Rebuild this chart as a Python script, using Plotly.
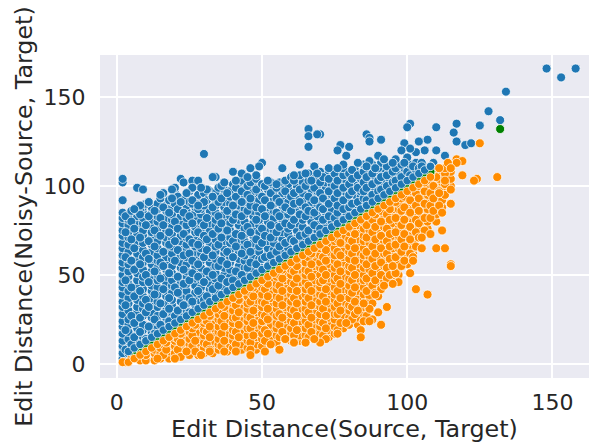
import plotly.graph_objects as go

x_ticks = [0, 50, 100, 150]
y_ticks = [0, 50, 100, 150]
x_title = "\u00a0\u00a0\u00a0Edit Distance(Source, Target)"
y_title = "Edit Distance(Noisy-Source, Target)"

blue_cols = {
2: [3,6,10,13,17,21,24,28,32,35,39,43,46,50,54,57,61,65,68,72,75,79,82,85,92,102,104],
4: [6,9,14,18,22,25,30,34,37,41,45,49,52,56,59,63,67,71,74,78,81,84],
7: [9,13,16,20,24,29,32,36,40,44,47,51,55,58,62,66,69,73,77,80,83,86,99],
9: [11,15,19,22,27,31,34,38,42,46,49,53,57,60,64,68,72,75,79,82,85,88,98],
12: [14,18,21,26,29,33,37,41,44,48,52,56,59,63,67,71,74,78,81,85,88],
14: [16,20,24,27,32,35,39,43,47,50,54,58,61,65,69,73,76,80,83,87,90],
17: [19,23,26,30,34,38,41,45,49,53,56,60,64,68,71,75,79,82,86,89],
19: [21,25,29,33,36,40,44,47,51,55,59,62,66,70,73,77,81,84,88,91],
22: [24,28,31,35,39,43,46,50,54,57,61,65,69,72,76,80,83,87,91],
24: [26,30,34,38,41,45,49,52,56,60,64,67,71,75,78,82,86,89,93],
27: [29,33,37,40,44,48,52,55,59,63,66,70,74,77,81,85,88,92],
29: [31,35,39,43,47,50,54,58,62,65,69,73,76,80,84,87,91,94],
32: [34,38,42,45,49,53,57,60,64,68,71,75,79,83,86,90,93,97],
34: [36,40,44,48,51,55,59,63,66,70,74,78,81,85,89,92,96],
37: [39,43,47,50,54,58,62,65,69,73,76,80,84,88,91,95,98],
39: [41,45,49,53,57,60,64,68,71,75,79,83,86,90,94,97],
42: [44,48,52,55,59,63,66,70,74,78,81,85,89,92,96,99],
44: [46,50,54,58,61,65,69,73,76,80,84,87,91,94,98],
47: [49,53,57,60,64,68,72,75,79,83,86,90,94,97,101],
49: [51,55,59,63,66,70,74,78,81,85,89,92,96,99],
52: [54,58,62,65,69,73,76,80,84,88,91,95,98],
54: [56,60,64,68,71,75,79,82,86,90,93,97,100],
57: [59,63,67,70,74,78,81,85,89,93,96,99],
59: [61,65,69,73,76,80,84,87,91,95,98,101],
62: [64,68,71,75,79,83,86,90,94,97,100,104],
64: [66,70,74,77,81,85,89,92,96,99,102],
67: [69,73,76,80,84,88,91,95,98,101,105],
69: [71,75,79,83,86,90,94,97,100,103],
72: [74,78,81,85,89,92,96,99,102,106],
74: [76,80,84,87,91,95,98,101,105],
77: [79,83,86,90,94,97,100,104,108],
79: [81,85,89,92,96,99,103,106],
82: [84,88,91,95,98,102,105,109],
84: [86,90,94,97,100,104,107],
87: [89,93,96,100,103,106,110],
89: [91,95,98,102,105,108],
92: [94,97,101,104,107,110],
94: [96,100,103,106,109],
97: [99,102,105,108,111],
99: [101,104,107,110],
102: [104,107,110],
104: [106,109],
107: [109],
}
blue_fill = {
3: [8,19,33,47,60,74,83],
5: [11,27,43,58,70,80,86],
6: [15,23,38,53,65,76],
8: [18,26,41,56,71,87,84],
10: [14,29,36,50,62,78,90],
11: [21,32,46,59,69,83,91],
13: [17,25,39,52,66,75,86],
15: [22,34,48,57,72,82,93],
16: [28,42,55,63,78,88],
18: [24,31,37,51,67,74,85,92],
20: [27,43,58,69,80,90,96],
21: [30,40,49,64,76,87,94],
23: [33,45,53,61,73,85,92],
25: [29,37,47,62,70,83,91,97],
26: [35,51,58,68,79,90,99],
28: [41,49,56,67,74,87,95],
30: [36,46,60,72,78,89,96],
31: [38,52,64,70,82,92,98],
33: [42,50,61,73,88,94],
35: [44,55,67,76,83,91,99],
36: [48,58,71,79,93,100],
38: [46,56,63,75,86,96],
40: [47,60,69,81,89,101],
41: [52,66,73,84,94,99],
43: [50,62,72,83,91,97,103],
45: [54,67,77,86,95,100],
46: [57,63,74,89,93,102],
48: [56,70,81,88,98,104],
50: [59,68,76,87,94,101],
51: [60,72,83,92,100],
53: [61,71,78,89,96,102],
55: [63,74,85,93,99],
56: [66,77,83,91,102],
58: [68,79,88,97,103],
60: [70,78,86,94,105],
61: [69,81,90,96,103],
63: [72,84,91,98,106],
65: [73,83,88,100],
66: [75,86,94,103,107],
68: [78,85,92,99,104],
70: [76,88,96,102,108],
71: [81,87,93,105],
73: [83,90,97,104],
75: [82,93,100,107],
76: [85,89,96,103],
78: [87,92,99,106,110],
80: [88,95,101,107],
81: [90,97,104,109],
83: [91,99,106],
85: [93,97,102,108,112],
86: [92,99,105,111],
88: [95,101,107,112],
90: [97,103,110],
91: [98,105,113],
93: [100,106,111],
95: [102,108],
96: [103,110,114],
98: [105,112],
100: [108],
101: [106,112],
103: [109,113],
105: [113],
}
blue_extra_x = [148,153,158,134,128,132,125,117,116,117,120,122,110,101,100,107,104,91,99,110,113,106,103,101,98,100,96,92,95,109,99,102,104,108,105,
                70,86,87,87,91,77,76,80,79,78,68,73,76,83,87,86,89,90,92,66,66,66,69,50,49,46,40,43,48,57,63,68,34,37,41,45,52,55,61,65,67,69,
                30,22,23,26,28,29,20,19,16,15,26,24,19,11,22,8,6,26,30,28,33,33]
blue_extra_y = [166,161,166,153,142,137,134,135,130,125,123,124,133,135,133,126,125,126,124,120,117,120,119,121,120,116,115,115,113,113,113,111,110,111,111,
                129,129,127,125,126,123,120,122,117,112,111,110,110,113,114,111,110,117,115,132,128,122,129,113,111,110,108,107,106,110,112,111,105,102,103,105,103,101,106,107,103,107,
                118,104,102,103,103,99,99,98,96,95,99,96,93,91,91,89,87,92,91,89,105,94]

orange_cols = {
3: [1],
5: [3],
8: [2,6],
10: [2,5,8],
13: [2,6,8,11],
15: [3,6,9,13],
18: [3,7,10,13,16],
20: [3,6,10,13,15,18],
23: [6,9,12,16,18,21],
25: [5,8,11,14,18,21,23],
28: [5,8,12,15,18,22,26],
30: [6,9,12,16,19,23,25,28],
33: [6,10,13,17,20,23,27,31],
35: [8,11,14,18,21,25,28,33],
38: [7,11,14,17,21,24,28,31,36],
40: [9,13,16,19,23,26,30,34,38],
43: [8,11,15,18,22,25,29,32,36,41],
45: [9,13,16,20,24,27,31,34,38,43],
48: [8,11,15,18,22,25,29,33,36,40,46],
50: [10,14,17,21,24,28,32,35,39,43,48],
53: [11,15,18,22,26,29,33,37,40,44,47,51],
55: [12,16,20,23,27,31,34,38,42,45,49,53],
58: [14,18,21,25,29,32,36,40,43,47,51,56],
60: [13,17,20,24,28,31,35,39,42,46,50,53,58],
63: [13,16,20,24,27,31,35,38,42,46,49,53,57,61],
65: [12,16,20,24,28,31,35,39,42,46,50,53,57,63],
68: [14,18,22,25,29,33,36,40,44,47,51,55,58,62,66],
70: [13,17,21,24,28,32,35,39,43,46,50,54,57,61,65,68],
73: [15,19,23,26,30,34,37,41,45,48,52,56,59,63,67,71],
75: [17,21,25,28,32,36,39,43,47,50,54,58,61,65,69,73],
78: [20,24,27,31,35,38,42,46,49,53,57,60,64,68,71,76],
80: [22,26,30,33,37,41,44,48,52,55,59,63,66,70,74,78],
83: [22,26,30,34,37,41,45,48,52,56,59,63,67,70,74,78,81],
85: [24,28,32,36,39,43,47,50,54,58,61,65,69,72,76,80,83],
87: [31,35,38,42,46,49,53,57,60,64,68,71,75,79,82,85],
90: [38,42,45,49,53,56,60,64,67,71,75,78,82,85,88],
92: [44,47,51,55,58,62,66,69,73,77,80,84,87,90],
95: [46,50,54,57,61,65,68,72,76,79,83,87,90,93],
97: [50,54,58,61,65,69,72,76,80,83,87,90,95],
100: [56,60,64,67,71,75,78,82,86,89,93,98],
102: [62,65,69,73,76,80,84,87,91,95,100],
105: [73,76,80,83,87,91,94,98,103],
107: [76,80,84,87,91,95,98,101,105],
110: [80,84,88,91,95,98,102,105,108],
112: [88,92,96,99,102,106,110],
115: [100,104,108,111],
}
orange_fill = {
16: [5,11],
17: [8,12],
21: [8,14],
22: [4,12,17],
26: [10,16,20],
27: [7,13,22],
31: [11,18,24],
32: [8,15,21,27],
36: [10,17,24,30],
37: [13,21,27,32],
41: [11,18,26,33,37],
42: [15,22,29,36],
46: [12,20,26,35,40],
47: [16,23,30,38,43],
51: [13,19,27,34,42,46],
52: [17,25,31,38,45],
56: [15,22,28,37,44,50],
57: [18,26,33,41,48,53],
61: [16,23,30,37,45,52,57],
62: [19,27,34,41,48,55],
66: [15,22,29,37,44,52,60],
67: [18,26,33,41,49,56,62],
71: [16,23,31,38,47,53,60,66],
72: [20,27,35,42,50,58,64],
76: [19,28,34,41,48,56,63,70],
77: [23,30,37,45,52,61,68],
81: [25,32,40,47,54,62,69,76],
82: [28,35,43,50,58,65,73],
86: [27,34,41,48,56,63,71,78],
88: [34,44,51,59,66,74,81],
89: [40,47,55,62,70,77,84],
91: [42,50,57,65,72,80,86],
93: [48,54,62,69,76,84,89],
94: [50,59,66,73,81,87],
96: [52,60,67,74,82,91],
98: [55,63,70,78,86,93],
99: [58,66,73,81,88,94],
101: [62,70,77,85,92,97],
103: [66,74,81,89,96,100],
104: [71,79,86,93,100],
106: [75,82,90,97,102],
108: [82,89,96,103],
109: [86,93,100,106],
111: [89,97,104,108],
113: [95,101,107,110],
}
orange_extra_x = [2,6,8,12,14,20,24,29,32,37,41,46,46,51,56,53,58,61,
                  115,112,112,108,105,110,113,105,115,115,102,102,101,103,107,93,90,91,85,88,87,84,84,76,79,72,70,68,65,61,58,56,97,95,92,89,87,85,83,96,95,
                  125,117,119,117,114,115,111,119,124,123,131,113,115,110,106,108,111]
orange_extra_y = [1,5,7,11,3,3,7,5,7,7,7,8,5,7,8,11,14,12,
                  90,85,75,73,71,65,65,65,56,55,60,58,51,42,39,32,29,22,24,25,24,19,15,17,23,14,12,14,12,12,14,8,46,45,44,39,31,34,30,51,55,
                  124,115,114,113,113,110,110,106,104,103,105,103,98,105,105,107,96]

green_x = [6,7,8,9,10,12,14,16,18,20,22,24,26,28,30,32,34,36,38,40,42,44,46,48,50,52,54,56,58,60,62,64,66,68,70,72,74,76,78,80,82,84,86,88,90,92,94,96,98,100,102,104,106,108,132]
green_y = [6,7,8,9,10,12,14,16,18,20,22,24,26,28,30,32,34,36,38,40,42,44,46,48,50,52,54,56,58,60,62,64,66,68,70,72,74,76,78,80,82,84,86,88,90,92,94,96,98,100,102,104,106,108,132]

edge_x = [4,6,8,10,12,14,16,18,20,22,24,26,28,30,32,34,36,38,40,42,44,46,48,50,52,54,56,58,60,62,64,66,68,70,72,74,76,78,80,82,84,86,88,90,92,94,96,98,100,102,104,106,108]
blue_edge_y = [7,9,11,13,15,17,19,21,23,25,27,29,31,33,35,37,39,41,43,45,47,49,51,53,55,57,59,61,63,65,67,69,71,73,75,77,79,81,83,85,87,89,91,93,95,97,99,101,103,105,107,109,111]
orange_edge_y = [1,3,5,7,9,11,13,15,17,19,21,23,25,27,29,31,33,35,37,39,41,43,45,47,49,51,53,55,57,59,61,63,65,67,69,71,73,75,77,79,81,83,85,87,89,91,93,95,97,99,101,103,105]

def flatten(cols, ex=(), ey=()):
    xs, ys = [], []
    for k, v in cols.items():
        xs += [k] * len(v)
        ys += v
    return xs + list(ex), ys + list(ey)

bx, by = flatten(blue_cols)
fx, fy = flatten(blue_fill, blue_extra_x, blue_extra_y)
blue_x, blue_y = bx + fx, by + fy
ox, oy = flatten(orange_cols)
gx, gy = flatten(orange_fill, orange_extra_x, orange_extra_y)
orange_x, orange_y = ox + gx, oy + gy

def trace(x, y, color, name, size=9):
    return go.Scatter(x=x, y=y, mode="markers", name=name,
                      marker=dict(size=size, color=color, line=dict(color="white", width=0.75)))

fig = go.Figure([
    trace(blue_x, blue_y, "#1f77b4", "above"),
    trace(orange_x, orange_y, "#ff8c00", "below"),
    trace(green_x, green_y, "#008000", "equal"),
    trace(edge_x, blue_edge_y, "#1f77b4", "above edge", 8.5),
    trace(edge_x, orange_edge_y, "#ff8c00", "below edge", 8.5),
])
axis = dict(showgrid=True, gridcolor="white", gridwidth=1.5, zeroline=False, showline=False,
            ticks="outside", tickcolor="rgba(0,0,0,0)", tickfont=dict(size=22, color="#262626"))
fig.update_layout(
    width=590, height=443, autosize=False, showlegend=False,
    margin=dict(l=100, r=1, t=55, b=65),
    paper_bgcolor="white", plot_bgcolor="#EAEAF2",
    font=dict(family="DejaVu Sans", color="#262626"),
    xaxis=dict(axis, ticklen=5, range=[-5.8, 162.6], tickvals=x_ticks,
               title=dict(text=x_title, font=dict(size=23.8), standoff=5)),
    yaxis=dict(axis, ticklen=9, range=[-7.9, 173.6], tickvals=y_ticks,
               title=dict(text=y_title, font=dict(size=23.8), standoff=4)),
)
fig.write_html("out.html", config=dict(displayModeBar=False),
               post_script="document.body.style.margin='0';document.documentElement.style.overflow='hidden';")
